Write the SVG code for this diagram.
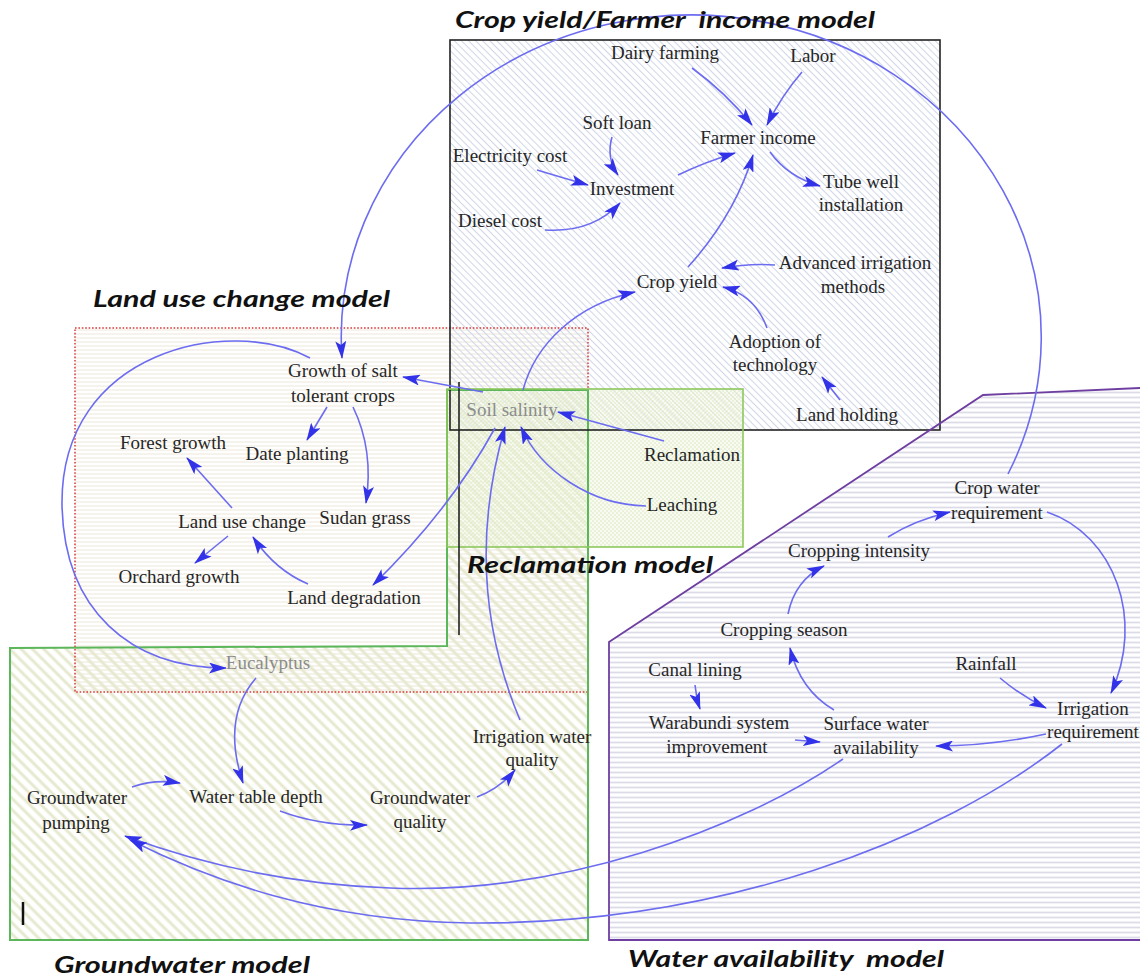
<svg xmlns="http://www.w3.org/2000/svg" width="1140" height="980" viewBox="0 0 1140 980">
  <style>
    .lbl { font-family: "Liberation Serif", "Times New Roman", serif; font-size: 19px; fill: #262626; text-anchor: middle; }
    .dim { fill: #8c8c8c; }
    .title { font-family: Lato, "Open Sans", "Liberation Sans", sans-serif; font-size: 23px; font-weight: 700; font-style: italic; fill: #111; white-space: pre; }
    .link { fill: none; stroke: #6c6cf0; stroke-width: 1.6; marker-end: url(#ah); }
  </style>
  <defs>
    <marker id="ah" viewBox="0 0 18 11" refX="17" refY="5.5" markerWidth="18" markerHeight="11" markerUnits="userSpaceOnUse" orient="auto">
      <path d="M0,0 L18,5.5 L0,11 L4,5.5 z" fill="#3232e8"/>
    </marker>
    <!-- fills of the five sub-model areas -->
    <pattern id="fillLand" width="8" height="4" patternUnits="userSpaceOnUse">
      <line x1="0" y1="2" x2="8" y2="2" stroke="#f0e9df" stroke-width="1.2"/>
    </pattern>
    <pattern id="fillGround" width="8" height="8" patternUnits="userSpaceOnUse" patternTransform="rotate(-45)">
      <line x1="4" y1="0" x2="4" y2="8" stroke="#e6e9cf" stroke-width="3"/>
    </pattern>
    <pattern id="fillCrop" width="5" height="5" patternUnits="userSpaceOnUse" patternTransform="rotate(-45)">
      <line x1="2.5" y1="0" x2="2.5" y2="5" stroke="#d2d6e8" stroke-width="1.1"/>
    </pattern>
    <pattern id="fillReclaim" width="4" height="4" patternUnits="userSpaceOnUse">
      <rect width="4" height="4" fill="#f3f8e8" fill-opacity="0.5"/>
      <circle cx="1" cy="1" r="0.8" fill="#d6e7b8"/>
      <circle cx="3" cy="3" r="0.8" fill="#d6e7b8"/>
    </pattern>
    <pattern id="fillWater" width="8" height="5" patternUnits="userSpaceOnUse">
      <line x1="0" y1="2.5" x2="8" y2="2.5" stroke="#dcdce9" stroke-width="1.8"/>
    </pattern>
  </defs>

  <rect width="1140" height="980" fill="#ffffff"/>

  <!-- model areas -->
  <g id="models">
    <rect x="75" y="328" width="513" height="364" fill="url(#fillLand)"/>
    <polygon points="447,390 588,390 588,940 10,940 10,648 447,646" fill="url(#fillGround)"/>
    <rect x="450" y="40" width="490" height="390" fill="url(#fillCrop)"/>
    <rect x="447" y="389" width="296" height="158" fill="url(#fillReclaim)"/>
    <polygon points="609,642 983,395 1140,388 1140,940 609,940" fill="url(#fillWater)"/>

    <rect x="75" y="328" width="513" height="364" fill="none" stroke="#d83a3a" stroke-width="1.5" stroke-dasharray="1.6 1.8"/>
    <polygon points="447,390 588,390 588,940 10,940 10,648 447,646" fill="none" stroke="#5cb65a" stroke-width="2"/>
    <rect x="450" y="40" width="490" height="390" fill="none" stroke="#222" stroke-width="1.6"/>
    <rect x="447" y="389" width="296" height="158" fill="none" stroke="#8cc85c" stroke-width="1.6"/>
    <polyline points="1140,388 983,395 609,642 609,940 1140,940" fill="none" stroke="#6e3fa0" stroke-width="1.8"/>
    <line x1="459" y1="382" x2="459" y2="635" stroke="#222" stroke-width="1.6"/>
    <line x1="23" y1="902" x2="23" y2="925" stroke="#111" stroke-width="2.5"/>
  </g>

  <!-- causal links -->
  <g id="connectors">
    <path class="link" d="M692,68 Q725,92 752,125"/>
    <path class="link" d="M802,72 Q782,95 767,125"/>
    <path class="link" d="M612,137 Q606,158 618,175"/>
    <path class="link" d="M537,170 Q560,177 588,185"/>
    <path class="link" d="M545,230 Q592,233 620,203"/>
    <path class="link" d="M678,175 Q705,162 735,153"/>
    <path class="link" d="M770,152 Q788,177 820,186"/>
    <path class="link" d="M688,267 Q735,215 753,155"/>
    <path class="link" d="M775,265 Q750,263 722,268"/>
    <path class="link" d="M767,328 Q755,295 723,287"/>
    <path class="link" d="M840,400 L822,377"/>
    <path class="link" d="M523,390 C535,345 575,305 635,292"/>
    <path class="link" d="M1008,474 A350,322 0 1 0 342,358"/>

    <path class="link" d="M483,392 L403,377"/>
    <path class="link" d="M327,407 L307,440"/>
    <path class="link" d="M353,407 Q374,450 366,503"/>
    <path class="link" d="M232,508 L187,458"/>
    <path class="link" d="M228,536 L195,563"/>
    <path class="link" d="M308,584 Q275,570 253,537"/>
    <path class="link" d="M495,428 Q450,510 373,585"/>
    <path class="link" d="M310,358 C230,315 60,350 62,505 C64,610 130,668 226,668"/>
    <path class="link" d="M664,441 L558,412"/>
    <path class="link" d="M646,506 C590,505 540,470 521,427"/>

    <path class="link" d="M256,678 C228,710 232,750 243,783"/>
    <path class="link" d="M132,787 Q155,779 180,783"/>
    <path class="link" d="M280,811 Q320,826 367,825"/>
    <path class="link" d="M477,797 Q500,788 515,770"/>
    <path class="link" d="M520,720 C478,620 478,520 505,427"/>

    <path class="link" d="M1047,512 C1115,535 1145,620 1111,693"/>
    <path class="link" d="M888,537 Q915,520 950,512"/>
    <path class="link" d="M788,614 Q795,580 824,566"/>
    <path class="link" d="M834,710 Q800,690 790,648"/>
    <path class="link" d="M695,685 Q696,697 700,709"/>
    <path class="link" d="M795,740 L820,742"/>
    <path class="link" d="M1046,734 Q990,746 936,746"/>
    <path class="link" d="M1000,678 Q1020,695 1046,708"/>
    <path class="link" d="M843,759 C740,830 560,895 390,888 C280,884 190,860 125,836"/>
    <path class="link" d="M1062,744 C940,840 720,925 470,923 C320,921 210,880 130,840"/>
  </g>

  <!-- crop yield / farmer income variables -->
  <g id="dairy-farming"><text class="lbl" x="665" y="59">Dairy farming</text></g>
  <g id="labor"><text class="lbl" x="813" y="62">Labor</text></g>
  <g id="soft-loan"><text class="lbl" x="617" y="129">Soft loan</text></g>
  <g id="farmer-income"><text class="lbl" x="758" y="144">Farmer income</text></g>
  <g id="electricity-cost"><text class="lbl" x="510" y="162">Electricity cost</text></g>
  <g id="investment"><text class="lbl" x="632" y="195">Investment</text></g>
  <g id="tube-well"><text class="lbl" x="861" y="188">Tube well</text><text class="lbl" x="861" y="211">installation</text></g>
  <g id="diesel-cost"><text class="lbl" x="500" y="227">Diesel cost</text></g>
  <g id="crop-yield"><text class="lbl" x="677" y="288">Crop yield</text></g>
  <g id="advanced-irrigation"><text class="lbl" x="855" y="269">Advanced irrigation</text><text class="lbl" x="853" y="293">methods</text></g>
  <g id="adoption-technology"><text class="lbl" x="775" y="348">Adoption of</text><text class="lbl" x="775" y="371">technology</text></g>
  <g id="land-holding"><text class="lbl" x="847" y="421">Land holding</text></g>

  <!-- land use change variables -->
  <g id="salt-tolerant-crops"><text class="lbl" x="343" y="377">Growth of salt</text><text class="lbl" x="343" y="402">tolerant crops</text></g>
  <g id="forest-growth"><text class="lbl" x="173" y="449">Forest growth</text></g>
  <g id="date-planting"><text class="lbl" x="297" y="460">Date planting</text></g>
  <g id="land-use-change"><text class="lbl" x="242" y="528">Land use change</text></g>
  <g id="sudan-grass"><text class="lbl" x="365" y="524">Sudan grass</text></g>
  <g id="orchard-growth"><text class="lbl" x="179" y="583">Orchard growth</text></g>
  <g id="land-degradation"><text class="lbl" x="354" y="604">Land degradation</text></g>
  <g id="eucalyptus"><text class="lbl dim" x="268" y="669">Eucalyptus</text></g>

  <!-- reclamation variables -->
  <g id="soil-salinity"><text class="lbl dim" x="512" y="416">Soil salinity</text></g>
  <g id="reclamation"><text class="lbl" x="692" y="461">Reclamation</text></g>
  <g id="leaching"><text class="lbl" x="682" y="511">Leaching</text></g>

  <!-- groundwater variables -->
  <g id="groundwater-pumping"><text class="lbl" x="77" y="804">Groundwater</text><text class="lbl" x="76" y="829">pumping</text></g>
  <g id="water-table-depth"><text class="lbl" x="256" y="803">Water table depth</text></g>
  <g id="groundwater-quality"><text class="lbl" x="420" y="804">Groundwater</text><text class="lbl" x="420" y="828">quality</text></g>
  <g id="irrigation-water-quality"><text class="lbl" x="532" y="743">Irrigation water</text><text class="lbl" x="532" y="766">quality</text></g>

  <!-- water availability variables -->
  <g id="crop-water-requirement"><text class="lbl" x="997" y="494">Crop water</text><text class="lbl" x="997" y="519">requirement</text></g>
  <g id="cropping-intensity"><text class="lbl" x="859" y="557">Cropping intensity</text></g>
  <g id="cropping-season"><text class="lbl" x="784" y="636">Cropping season</text></g>
  <g id="canal-lining"><text class="lbl" x="695" y="676">Canal lining</text></g>
  <g id="rainfall"><text class="lbl" x="986" y="670">Rainfall</text></g>
  <g id="warabundi"><text class="lbl" x="719" y="729">Warabundi system</text><text class="lbl" x="717" y="753">improvement</text></g>
  <g id="surface-water"><text class="lbl" x="876" y="730">Surface water</text><text class="lbl" x="876" y="754">availability</text></g>
  <g id="irrigation-requirement"><text class="lbl" x="1093" y="715">Irrigation</text><text class="lbl" x="1093" y="738">requirement</text></g>

  <!-- model titles -->
  <g id="titles">
    <text class="title" x="455" y="28" textLength="420" lengthAdjust="spacingAndGlyphs">Crop yield/Farmer  income model</text>
    <text class="title" x="93" y="307" textLength="297" lengthAdjust="spacingAndGlyphs">Land use change model</text>
    <text class="title" x="467" y="573" textLength="246" lengthAdjust="spacingAndGlyphs">Reclamation model</text>
    <text class="title" x="54" y="973" textLength="256" lengthAdjust="spacingAndGlyphs">Groundwater model</text>
    <text class="title" x="628" y="967" textLength="316" lengthAdjust="spacingAndGlyphs">Water availability  model</text>
  </g>
</svg>
